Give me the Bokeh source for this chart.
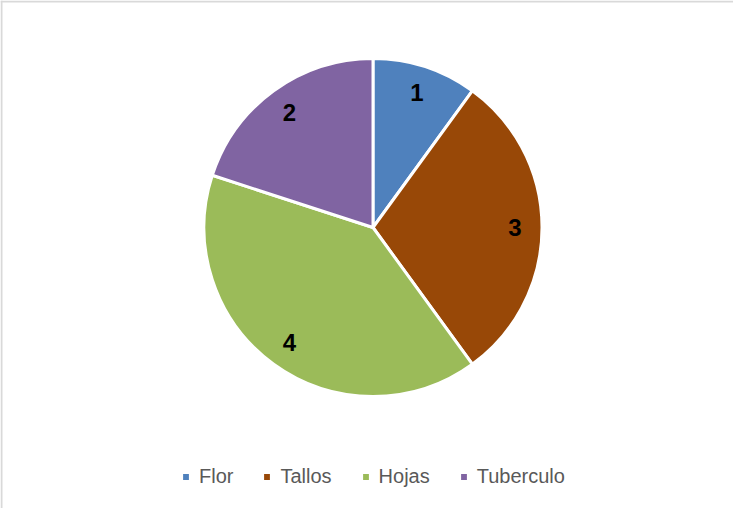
import numpy as np
from bokeh.plotting import figure
from bokeh.models import ColumnDataSource, Range1d, Legend, LegendItem, Span
from bokeh.core.properties import value
from bokeh.embed import file_html
from bokeh.resources import INLINE

categories = ["Flor", "Tallos", "Hojas", "Tuberculo"]
values = [1, 3, 4, 2]
colors = ["#4f81bd", "#984807", "#9bbb59", "#8064a2"]

W, H = 733, 508
cx, cy, R = 372.5, 281.0, 169.0

vals = np.array(values, dtype=float)
frac = vals / vals.sum()
cum = np.concatenate([[0], np.cumsum(frac)])
# clockwise from top
start = np.pi / 2 - cum[:-1] * 2 * np.pi
end = np.pi / 2 - cum[1:] * 2 * np.pi
mid = (start + end) / 2
lr = 142.0

src = ColumnDataSource(dict(
    cat=categories, val=values, color=colors,
    start=start, end=end,
    lx=cx + lr * np.cos(mid), ly=cy + lr * np.sin(mid),
    lab=[str(v) for v in values],
))

p = figure(width=W, height=H, output_backend="svg", toolbar_location=None,
           x_range=Range1d(0, W), y_range=Range1d(0, H), min_border=0,
           background_fill_color="white", border_fill_color="white")
p.outline_line_color = None
p.axis.visible = False
p.grid.visible = False

wr = p.wedge(x=cx, y=cy, radius=R, start_angle="end", end_angle="start",
             fill_color="color", line_color="white", line_width=3, source=src)

p.text(x="lx", y="ly", text="lab", source=src, text_align="center",
       text_baseline="middle", text_font=value("Liberation Sans"),
       text_font_style="bold", text_font_size="24px", text_color="black")

# chart area border (left and top visible)
p.add_layout(Span(location=1, dimension="height", line_color="#d9d9d9", line_width=2))
p.add_layout(Span(location=H - 1, dimension="width", line_color="#d9d9d9", line_width=2))

items = [LegendItem(label=c, renderers=[wr], index=i) for i, c in enumerate(categories)]
legend = Legend(items=items, orientation="horizontal", location=(180, 20),
                glyph_width=11, glyph_height=11, label_standoff=8, spacing=28,
                padding=0, margin=0, border_line_color=None,
                background_fill_alpha=0,
                label_text_font="Liberation Sans", label_text_font_size="20px",
                label_text_color="#595959")
p.add_layout(legend)

open("out.html", "w").write(file_html(p, INLINE))
